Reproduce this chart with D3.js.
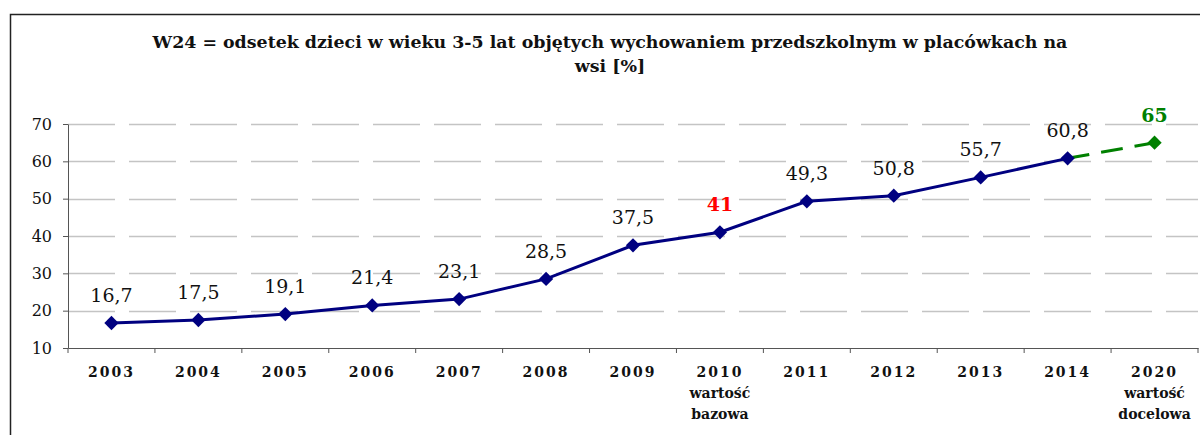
<!DOCTYPE html>
<html>
<head>
<meta charset="utf-8">
<script src="https://cdn.jsdelivr.net/npm/d3@7"></script>
<style>
  body { margin: 0; background: #fff; }
  svg { display: block; font-family: 'DejaVu Serif', serif; }
</style>
</head>
<body>
<svg id="chart" width="1200" height="435"></svg>
<script>
const categories = ['2003', '2004', '2005', '2006', '2007', '2008', '2009', '2010', '2011', '2012', '2013', '2014', '2020'];
const subLabels = { '2010': ['wartość', 'bazowa'], '2020': ['wartość', 'docelowa'] };
const actualYears = ['2003', '2004', '2005', '2006', '2007', '2008', '2009', '2010', '2011', '2012', '2013', '2014'];
const actualValues = [16.7, 17.5, 19.1, 21.4, 23.1, 28.5, 37.5, 41, 49.3, 50.8, 55.7, 60.8];
const targetYears = ['2014', '2020'];
const targetValues = [60.8, 65];
const yTicks = [10, 20, 30, 40, 50, 60, 70];
const titleLines = ['W24 = odsetek dzieci w wieku 3-5 lat objętych wychowaniem przedszkolnym w placówkach na', 'wsi [%]'];

const margin = { top: 124, right: 2, bottom: 87, left: 68 };
const w = 1200;
const h = 435;

const svg = d3.select('#chart');

// ramka
svg.append('rect')
  .attr('x', 10.5).attr('y', 14.5)
  .attr('width', 1300).attr('height', 600)
  .attr('fill', 'none')
  .attr('stroke', '#222')
  .attr('stroke-width', 1.5);

svg.append('g').selectAll('text')
  .data(titleLines)
  .enter()
  .append('text')
  .attr('x', 610)
  .attr('y', (d, i) => 48 + i * 24)
  .attr('text-anchor', 'middle')
  .attr('font-weight', 'bold')
  .attr('font-size', 17.4)
  .attr('fill', '#111')
  .text(d => d);

const xScale = d3.scaleBand()
  .domain(categories)
  .range([margin.left, w - margin.right]);
const yScale = d3.scaleLinear()
  .domain([10, 70])
  .range([h - margin.bottom, margin.top]);
const cx = d => xScale(d) + xScale.bandwidth() / 2;

// siatka
svg.append('g').selectAll('line')
  .data(yTicks.filter(d => d > 10))
  .enter()
  .append('line')
  .attr('x1', margin.left).attr('x2', w - margin.right)
  .attr('y1', d => Math.round(yScale(d)) + 0.5)
  .attr('y2', d => Math.round(yScale(d)) + 0.5)
  .attr('stroke', '#c4c4c4')
  .attr('stroke-width', 1.5)
  .attr('stroke-dasharray', '47,14');

const yAxis = svg.append('g')
  .attr('transform', `translate(${margin.left},0)`)
  .call(d3.axisLeft(yScale).tickValues(yTicks).tickSize(5).tickSizeOuter(0).tickPadding(11));
yAxis.select('.domain').attr('stroke', '#555');
yAxis.selectAll('.tick line').attr('stroke', '#555');
yAxis.selectAll('.tick text')
  .attr('font-family', "'DejaVu Serif', serif")
  .attr('font-size', 16)
  .attr('fill', '#111');

const xAxis = svg.append('g')
  .attr('transform', `translate(0,${h - margin.bottom})`)
  .call(d3.axisBottom(xScale).tickSize(0).tickSizeOuter(0).tickFormat(''));
xAxis.select('.domain').attr('stroke', '#555');
xAxis.selectAll('.tick').remove();

// znaczniki między kategoriami
xAxis.selectAll('.sep')
  .data(categories.concat(['end']))
  .enter()
  .append('line')
  .attr('x1', (d, i) => margin.left + i * xScale.step())
  .attr('x2', (d, i) => margin.left + i * xScale.step())
  .attr('y1', 0).attr('y2', 5)
  .attr('stroke', '#555');

const xLabels = svg.append('g').selectAll('text')
  .data(categories)
  .enter()
  .append('text')
  .attr('x', d => cx(d))
  .attr('y', h - margin.bottom + 29)
  .attr('text-anchor', 'middle')
  .attr('font-weight', 'bold')
  .attr('font-size', 14)
  .attr('fill', '#111');
xLabels.append('tspan')
  .attr('letter-spacing', 2)
  .text(d => d);
xLabels.each(function (d) {
  (subLabels[d] || []).forEach(s => {
    d3.select(this).append('tspan')
      .attr('x', cx(d))
      .attr('dy', 21)
      .attr('font-weight', 'bold')
      .text(s);
  });
});

// linia celu
svg.append('path')
  .datum(targetYears.map((d, i) => [d, targetValues[i]]))
  .attr('fill', 'none')
  .attr('stroke', '#008000')
  .attr('stroke-width', 3)
  .attr('stroke-dasharray', '22,12')
  .attr('d', d3.line().x(d => cx(d[0])).y(d => yScale(d[1])));

svg.append('path')
  .datum(actualYears.map((d, i) => [d, actualValues[i]]))
  .attr('fill', 'none')
  .attr('stroke', '#000080')
  .attr('stroke-width', 3)
  .attr('d', d3.line().x(d => cx(d[0])).y(d => yScale(d[1])));

const diamond = d3.symbol().type(d3.symbolDiamond2).size(130);

svg.append('path')
  .attr('d', diamond())
  .attr('transform', `translate(${cx(targetYears[1])},${yScale(targetValues[1])})`)
  .attr('fill', '#008000');

svg.append('g').selectAll('path')
  .data(actualYears)
  .enter()
  .append('path')
  .attr('d', diamond())
  .attr('transform', (d, i) => `translate(${cx(d)},${yScale(actualValues[i])})`)
  .attr('fill', '#000080');

const fmt = v => String(v).replace('.', ',');

svg.append('g').selectAll('text')
  .data(actualYears)
  .enter()
  .append('text')
  .attr('x', d => cx(d))
  .attr('y', (d, i) => yScale(actualValues[i]) - 21)
  .attr('text-anchor', 'middle')
  .attr('font-size', 19)
  .attr('font-weight', d => d === '2010' ? 'bold' : 'normal')
  .attr('fill', d => d === '2010' ? '#ff0000' : '#111')
  .text((d, i) => fmt(actualValues[i]));

svg.append('text')
  .attr('x', cx(targetYears[1]))
  .attr('y', yScale(targetValues[1]) - 21)
  .attr('text-anchor', 'middle')
  .attr('font-size', 19)
  .attr('font-weight', 'bold')
  .attr('fill', '#008000')
  .text(fmt(targetValues[1]));
</script>
</body>
</html>
